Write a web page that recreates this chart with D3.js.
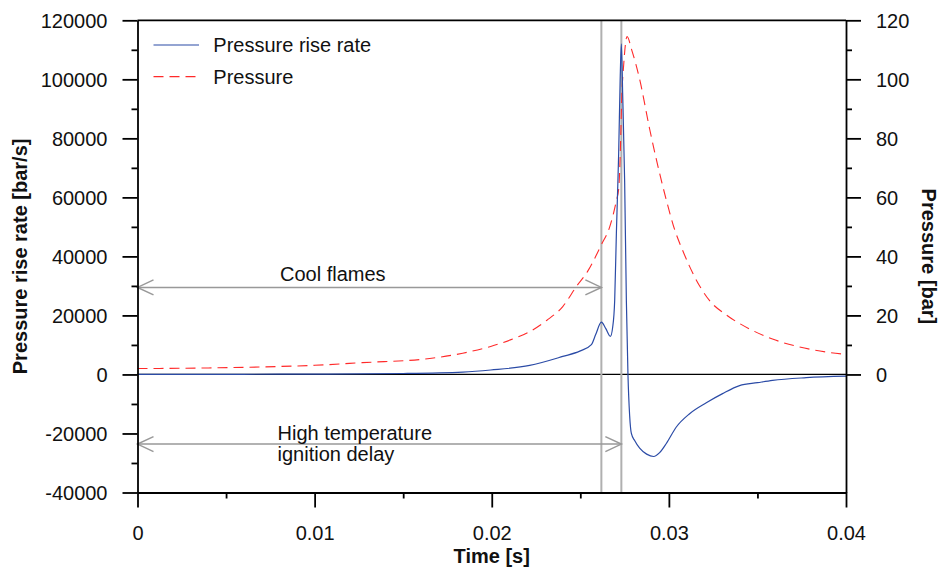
<!DOCTYPE html>
<html>
<head>
<meta charset="utf-8">
<script src="https://cdn.jsdelivr.net/npm/d3@7"></script>
<style>
  html, body { margin: 0; padding: 0; background: #fff; }
  svg text { font-family: "Liberation Sans", Arial, sans-serif; fill: #111; }
</style>
</head>
<body>
<svg id="chart" width="942" height="576"></svg>
<script>
// ---------------- data ----------------
const rateTime = [0, 0.004, 0.008, 0.01, 0.015, 0.01836, 0.01994, 0.02214, 0.02401, 0.02497, 0.025626,
  0.025868, 0.02619, 0.026432, 0.026697, 0.026827, 0.02694, 0.027036, 0.027092, 0.027166, 0.02725,
  0.027318, 0.027391, 0.027504, 0.0276, 0.02769, 0.027786, 0.027882, 0.028068, 0.02835, 0.028745,
  0.02914, 0.029478, 0.029856, 0.03042, 0.031171, 0.032113, 0.033032, 0.033991, 0.035007, 0.035853,
  0.037755, 0.04];
const rateValues = [0, 30, 80, 120, 320, 800, 1500, 3050, 6100, 7900, 10100,
  13500, 17700, 15600, 12900, 16000, 25000, 47800, 59300, 75000, 100000,
  112000, 95000, 65000, 25000, 0, -14000, -20000, -22400, -25000, -27000,
  -27800, -26500, -23400, -17800, -13300, -9600, -6500, -3800, -2800, -2000,
  -1100, -600];

const pressureTime = [0, 0.004, 0.008, 0.01, 0.0127, 0.0165, 0.01836, 0.01994, 0.02118, 0.02214, 0.0231,
  0.02401, 0.0248, 0.02542, 0.02619, 0.02666, 0.02704, 0.02717, 0.02728, 0.02733, 0.02745, 0.02764,
  0.0279, 0.02835, 0.02892, 0.02986, 0.03033, 0.03078, 0.03146, 0.0323, 0.03324, 0.03456, 0.03585,
  0.03738, 0.03889, 0.04];
const pressureValues = [2.0, 2.2, 2.7, 3.1, 4.0, 5.4, 7.2, 9.5, 12, 14.5, 18.3,
  23, 30, 35, 44, 50, 59, 63, 80, 92, 105, 114.5,
  110, 100, 83, 59, 49, 42, 33, 25, 20.2, 15.4, 12.0,
  9.3, 7.6, 6.8];

const xTicks = [0, 0.01, 0.02, 0.03, 0.04];
const xTickLabels = ["0", "0.01", "0.02", "0.03", "0.04"];
const xMinorTicks = [0.005, 0.015, 0.025, 0.035];
const leftTicks = [-40000, -20000, 0, 20000, 40000, 60000, 80000, 100000, 120000];
const leftMinorTicks = [-30000, -10000, 10000, 30000, 50000, 70000, 90000, 110000];
const rightTicks = [0, 20, 40, 60, 80, 100, 120];
const rightMinorTicks = [10, 30, 50, 70, 90, 110];

const seriesNames = ["Pressure rise rate", "Pressure"];
const markerTimes = [0.026189, 0.027317];          // vertical gray lines
const coolFlamesLevel = 29500;                     // arrow level (left axis units)
const highTempLevel = -23600;
const annotations = ["Cool flames", "High temperature", "ignition delay"];

// ---------------- layout ----------------
const svg = d3.select("#chart");
const margin = {left: 137.5, right: 96, top: 20.3, bottom: 83.5};
const W = 942, H = 576;
const w = W - margin.left - margin.right;
const h = H - margin.top - margin.bottom;
const g = svg.append("g").attr("transform", `translate(${margin.left},${margin.top})`);

const x = d3.scaleLinear().domain([0, 0.04]).range([0, w]);
const yL = d3.scaleLinear().domain([-40000, 120000]).range([h, 0]);
const yR = d3.scaleLinear().domain([-40, 120]).range([h, 0]);

const blue = "#2b4ba6";
const red = "#ff2a2a";
const FONT = 20;

// zero line
g.append("line").attr("x1", 0).attr("x2", w).attr("y1", yL(0)).attr("y2", yL(0))
  .attr("stroke", "#000").attr("stroke-width", 1.2);

// vertical marker lines
g.selectAll(".marker").data(markerTimes).enter().append("line")
  .attr("x1", d => x(d)).attr("x2", d => x(d)).attr("y1", 0).attr("y2", h)
  .attr("stroke", "#b0b0b0").attr("stroke-width", 2);

// arrows
function arrow(t0, t1, level) {
  const y = yL(level), xa = x(t0), xb = x(t1);
  const grp = g.append("g").attr("stroke", "#999").attr("stroke-width", 1.5).attr("fill", "none");
  grp.append("line").attr("x1", xa).attr("x2", xb).attr("y1", y).attr("y2", y);
  grp.append("path").attr("d", `M${xa + 16},${y - 7.5}L${xa},${y}L${xa + 16},${y + 7.5}`);
  grp.append("path").attr("d", `M${xb - 16},${y - 7.5}L${xb},${y}L${xb - 16},${y + 7.5}`);
}
arrow(0, markerTimes[0], coolFlamesLevel);
arrow(0, markerTimes[1], highTempLevel);

// annotation texts
g.append("text").attr("x", 280 - margin.left).attr("y", yL(coolFlamesLevel) - 6)
  .attr("font-size", FONT).text(annotations[0]);
g.append("text").attr("x", 277.5 - margin.left).attr("y", yL(highTempLevel) - 4.5)
  .attr("font-size", FONT).text(annotations[1]);
g.append("text").attr("x", 277.5 - margin.left).attr("y", yL(highTempLevel) + 17)
  .attr("font-size", FONT).text(annotations[2]);

// curves
const pLine = d3.line().x((d, i) => x(pressureTime[i])).y(d => yR(d)).curve(d3.curveMonotoneX);
g.append("path").attr("d", pLine(pressureValues)).attr("fill", "none")
  .attr("stroke", red).attr("stroke-width", 1.1).attr("stroke-dasharray", "10,6");

const rLine = d3.line().x((d, i) => x(rateTime[i])).y(d => yL(d)).curve(d3.curveMonotoneX);
g.append("path").attr("d", rLine(rateValues)).attr("fill", "none")
  .attr("stroke", blue).attr("stroke-width", 1.2);

// axes
function styleAxis(sel) {
  sel.selectAll("path.domain").attr("stroke", "#000").attr("stroke-width", 1.8);
  sel.selectAll(".tick line").attr("stroke", "#000").attr("stroke-width", 1.8);
  sel.selectAll(".tick text").attr("font-size", FONT)
    .attr("font-family", '"Liberation Sans", Arial, sans-serif').attr("fill", "#111");
}

// left axis
const gl = g.append("g").call(d3.axisLeft(yL).tickValues(leftTicks).tickSize(15)
  .tickSizeOuter(0).tickPadding(15).tickFormat(d => String(d)));
styleAxis(gl);
gl.selectAll(".tick text").attr("dy", "0.34em");
const glm = g.append("g").call(d3.axisLeft(yL).tickValues(leftMinorTicks).tickSize(6)
  .tickSizeOuter(0).tickFormat(""));
styleAxis(glm); glm.select("path.domain").remove();

// right axis
const gr = g.append("g").attr("transform", `translate(${w},0)`)
  .call(d3.axisRight(yR).tickValues(rightTicks).tickSize(15).tickSizeOuter(0).tickPadding(15));
styleAxis(gr);
gr.selectAll(".tick text").attr("dy", "0.34em");
const grm = g.append("g").attr("transform", `translate(${w},0)`)
  .call(d3.axisRight(yR).tickValues(rightMinorTicks).tickSize(6).tickSizeOuter(0).tickFormat(""));
styleAxis(grm); grm.select("path.domain").remove();

// bottom axis
const gb = g.append("g").attr("transform", `translate(0,${h})`)
  .call(d3.axisBottom(x).tickValues(xTicks).tickSize(15).tickSizeOuter(0).tickPadding(18)
    .tickFormat((d, i) => xTickLabels[i]));
styleAxis(gb);
gb.selectAll(".tick text").attr("dy", "0.71em");
const gbm = g.append("g").attr("transform", `translate(0,${h})`)
  .call(d3.axisBottom(x).tickValues(xMinorTicks).tickSize(6).tickSizeOuter(0).tickFormat(""));
styleAxis(gbm); gbm.select("path.domain").remove();

// top border
g.append("line").attr("x1", 0).attr("x2", w).attr("y1", 0).attr("y2", 0)
  .attr("stroke", "#000").attr("stroke-width", 1.8);

// axis titles
svg.append("text").attr("transform", `translate(27,${margin.top + h / 2}) rotate(-90)`)
  .attr("text-anchor", "middle").attr("font-size", FONT).attr("font-weight", "bold")
  .text("Pressure rise rate [bar/s]");
svg.append("text").attr("transform", `translate(922,${margin.top + h / 2}) rotate(90)`)
  .attr("text-anchor", "middle").attr("font-size", FONT).attr("font-weight", "bold")
  .text("Pressure [bar]");
svg.append("text").attr("x", margin.left + w / 2).attr("y", 563)
  .attr("text-anchor", "middle").attr("font-size", FONT).attr("font-weight", "bold")
  .text("Time [s]");

// legend
const legend = svg.append("g");
const legendRows = [{name: seriesNames[0], color: blue, dash: null, y: 45},
                    {name: seriesNames[1], color: red, dash: "10,6", y: 76.7}];
legendRows.forEach(r => {
  legend.append("line").attr("x1", 153.5).attr("x2", 199).attr("y1", r.y).attr("y2", r.y)
    .attr("stroke", r.color).attr("stroke-width", 1.2).attr("stroke-dasharray", r.dash);
  legend.append("text").attr("x", 213.3).attr("y", r.y + 7.3).attr("font-size", FONT).text(r.name);
});
</script>
</body>
</html>
